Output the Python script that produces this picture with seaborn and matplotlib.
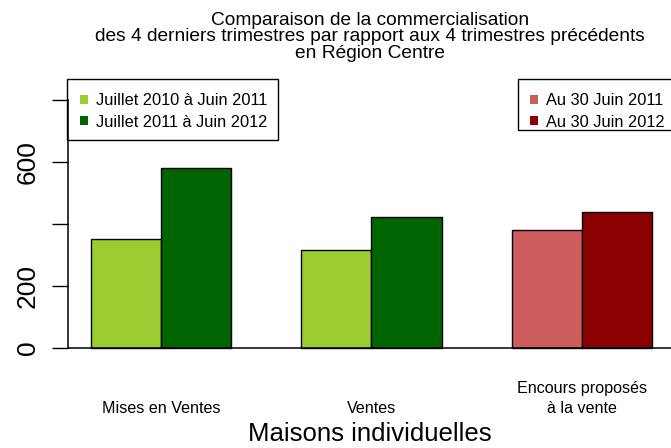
import matplotlib
matplotlib.use("Agg")
import matplotlib.pyplot as plt
import seaborn as sns
import pandas as pd
from matplotlib.patches import Patch, Rectangle

# ---- data ----
categories = ["Mises en Ventes", "Ventes", "Encours proposés\nà la vente"]
periods = ["N-1", "N"]
values_prev = [350, 316, 381]
values_curr = [580, 422, 439]
legend_flux_labels = ["Juillet 2010 à Juin 2011", "Juillet 2011 à Juin 2012"]
legend_stock_labels = ["Au 30 Juin 2011", "Au 30 Juin 2012"]
flux_colors = ["#9ACD32", "#006400"]
stock_colors = ["#CD5C5C", "#8B0000"]
yticks = [0, 200, 400, 600, 800]
ytick_labels = ["0", "200", "", "600", ""]
title_lines = ["Comparaison de la commercialisation",
               "des 4 derniers trimestres par rapport aux 4 trimestres précédents",
               "en Région Centre"]
xlabel = "Maisons individuelles"

W, H = 671, 448
sns.set_style("white")
plt.rcParams["font.family"] = ["Liberation Sans", "DejaVu Sans"]
plt.rcParams["text.color"] = "black"
plt.rcParams["axes.labelcolor"] = "black"
plt.rcParams["xtick.color"] = "black"
plt.rcParams["ytick.color"] = "black"

fig = plt.figure(figsize=(W / 100, H / 100), dpi=100)


def fx(px):
    return px / W


def fy(py):
    return 1 - py / H


ax_left, ax_right, ax_top, ax_bottom = 68, 672, 79, 358.3
ax = fig.add_axes([fx(ax_left), fy(ax_bottom), (ax_right - ax_left) / W, (ax_bottom - ax_top) / H])

df = pd.DataFrame({
    "categorie": categories * 2,
    "periode": [periods[0]] * 3 + [periods[1]] * 3,
    "valeur": values_prev + values_curr,
})
sns.barplot(data=df, x="categorie", y="valeur", hue="periode", order=categories,
            hue_order=periods, palette=flux_colors, width=2 / 3, saturation=1,
            edgecolor="black", linewidth=1.0, legend=False, ax=ax)

# third group uses the red palette
for p in ax.patches:
    cx = p.get_x() + p.get_width() / 2
    if cx > 1.5:
        p.set_facecolor(stock_colors[0] if cx < 2 else stock_colors[1])

ax.set_xlim(-0.4418, 2.4276)
ax.set_ylim(-33.3, 866.6)
ax.axhline(0, color="black", lw=1.1, zorder=3)

for s in ["top", "right", "bottom"]:
    ax.spines[s].set_visible(False)
ax.spines["left"].set_bounds(0, 800)
ax.spines["left"].set_linewidth(1.1)
ax.spines["left"].set_color("black")

ax.set_yticks(yticks)
ax.set_yticklabels(ytick_labels, rotation=90, va="center", fontsize=19)
ax.tick_params(axis="y", left=True, length=11.5, width=1.0, pad=9, color="black", labelcolor="black")
ax.tick_params(axis="x", bottom=False, length=0, pad=41.7, labelcolor="black")
ax.set_xticks(range(len(categories)))
ax.set_xticklabels(categories, fontsize=11.6)
for lbl in ax.get_xticklabels():
    lbl.set_va("bottom")
    lbl.set_linespacing(1.45)
ax.set_ylabel("")
ax.set_xlabel(xlabel, fontsize=18.5, color="black")
ax.xaxis.set_label_coords(0.5, (ax_bottom - 422) / (ax_bottom - ax_top))

# legends
flux_handles = [Patch(facecolor=c, edgecolor="none") for c in flux_colors]
stock_handles = [Patch(facecolor=c, edgecolor="none") for c in stock_colors]
common = dict(loc="upper left", bbox_transform=fig.transFigure, frameon=False, fontsize=11.8,
              handlelength=0.5, handleheight=0.5, handletextpad=0.5, labelspacing=0.4,
              borderpad=0, borderaxespad=0)
leg1 = ax.legend(flux_handles, legend_flux_labels, bbox_to_anchor=(fx(80), fy(93)), **common)
ax.add_artist(leg1)
leg2 = ax.legend(stock_handles, legend_stock_labels, bbox_to_anchor=(fx(530), fy(93)), **common)

fig.add_artist(Rectangle((fx(67), fy(140)), (278 - 67) / W, (140 - 79) / H,
                         transform=fig.transFigure, fill=False, edgecolor="black", lw=1.0))
fig.add_artist(Rectangle((fx(518), fy(130)), (673 - 518) / W, (130 - 79) / H,
                         transform=fig.transFigure, fill=False, edgecolor="black", lw=1.0))

# title
for line, base in zip(title_lines, [25, 41, 58]):
    fig.text(fx(370), fy(base), line, ha="center", va="baseline", fontsize=13.8, color="black")

fig.savefig("out.png", dpi=100)
